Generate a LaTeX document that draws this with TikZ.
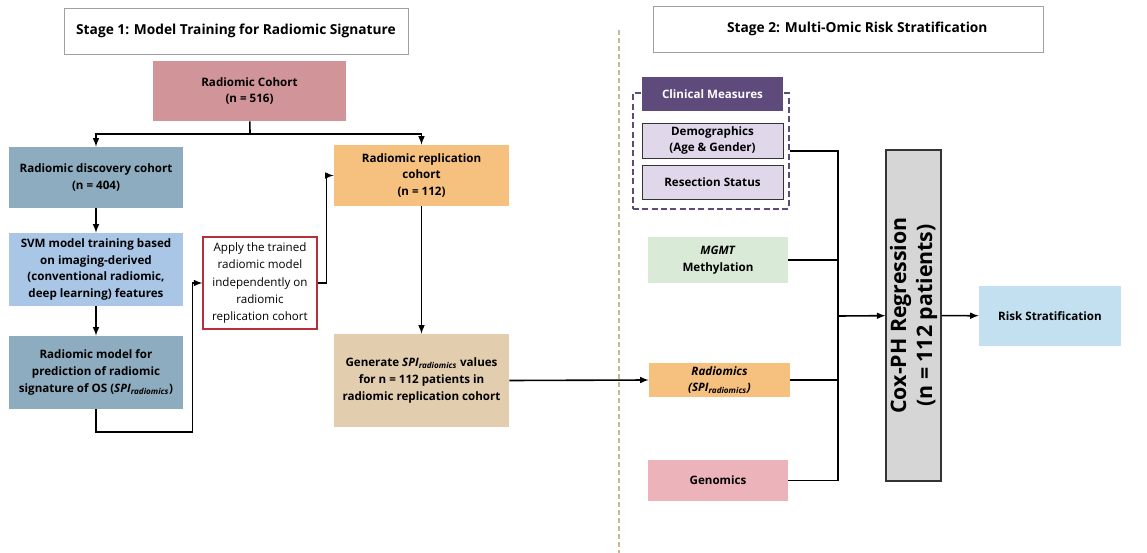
\documentclass[tikz,border=0pt]{standalone}
\usepackage{fontspec}
\setmainfont{Open Sans}
\usetikzlibrary{calc}

\begin{document}
\begin{tikzpicture}[x=0.75pt,y=-0.75pt,
  font=\bfseries\fontsize{8.7}{12.5}\selectfont,
  box/.style={inner sep=0pt,align=center},
  arr/.style={-latex,line width=1.2pt},
  link/.style={line width=1.2pt}]

\newcommand{\cell}[7][] % [style][x0][y0][x1][y1][name]{text}
{
 \node[box,#1,minimum width={(#4-#2)*0.75pt},minimum height={(#5-#3)*0.75pt}]
   (#6) at ({(#2+#4)/2},{(#3+#5)/2}) {#7};
}
\newcommand{\spi}{\textit{SPI}\textsubscript{\itshape radiomics}}

\definecolor{edge}{HTML}{A0A0A0}
\definecolor{cohort}{HTML}{D09499}
\definecolor{steel}{HTML}{8EACBF}
\definecolor{sky}{HTML}{A9C6E6}
\definecolor{peach}{HTML}{F6C07F}
\definecolor{sand}{HTML}{E2CDAF}
\definecolor{wine}{HTML}{B5303A}
\definecolor{tan}{HTML}{C6B99C}
\definecolor{plum}{HTML}{5E4A7B}
\definecolor{lilac}{HTML}{E0D8EA}
\definecolor{mint}{HTML}{D9EAD6}
\definecolor{rose}{HTML}{ECB3BA}
\definecolor{ice}{HTML}{C3E0F0}
\definecolor{cox}{HTML}{D6D6D6}

\useasboundingbox (0,0) rectangle (1147,553);

% stage 1
\cell[draw=edge,font=\bfseries\fontsize{10.3}{12}\selectfont]{64}{8}{408}{54}{stage1}
 {Stage 1: Model Training for Radiomic Signature}
\cell[fill=cohort]{153}{61}{346}{121}{cohort}{Radiomic Cohort\\(n = 516)}
\cell[fill=steel]{9}{147}{183}{208}{disc}{Radiomic discovery cohort\\(n = 404)}
\cell[fill=sky]{9}{233}{183}{306}{svm}
 {SVM model training based\\on imaging-derived\\(conventional radiomic,\\deep learning) features}
\cell[fill=steel]{9}{336}{183}{409}{model}
 {Radiomic model for\\prediction of radiomic\\signature of OS (\spi)}
\cell[draw=wine,line width=1pt,fill=white,font=\mdseries\fontsize{8.7}{13}\selectfont]{203}{237}{317}{329}{apply}
 {Apply the trained\\radiomic model\\independently on\\radiomic\\replication cohort}
\cell[fill=peach]{334}{145}{509}{206}{repl}{Radiomic replication\\cohort\\(n = 112)}
\cell[fill=sand]{334}{334}{509}{427}{gen}
 {Generate \spi{} values\\for n = 112 patients in\\radiomic replication cohort}

\coordinate (split) at (250,134);
\draw[link] (cohort) -- (split);
\draw[arr] (split) -| (disc);
\draw[arr] (split) -| (repl);
\draw[arr] (disc) -- (svm);
\draw[arr] (svm) -- (model);
\draw[arr] (model.south) -- ++(0,23) -| ([xshift=-7.5pt]apply.west) -- (apply.west);
\draw[arr] (apply.east) -- ++(9,0) |- (repl.west);
\draw[arr] (repl) -- (gen);

% divider
\draw[tan,line width=1.5pt,dash pattern=on 4pt off 2pt] (619,30) -- (619,553);

% stage 2
\cell[draw=edge,font=\bfseries\fontsize{10.3}{12}\selectfont]{653}{6}{1043}{52}{stage2}
 {\hspace*{14pt}Stage 2: Multi-Omic Risk Stratification}
\cell[draw=plum,line width=1.3pt,dash pattern=on 4.5pt off 2.5pt]{633}{93}{789}{209}{clinical}{}
\cell[fill=plum,text=white]{642}{77}{783}{111}{clinhead}{Clinical Measures}
\cell[fill=lilac,draw=black!80,line width=0.7pt]{642}{123}{783}{158}{demo}{Demographics\\(Age \& Gender)}
\cell[fill=lilac,draw=black!80,line width=0.7pt]{642}{165}{783}{199}{resect}{Resection Status}
\cell[fill=mint]{648}{237}{788}{283}{mgmt}{\textit{MGMT}\\Methylation}
\cell[fill=peach]{649}{363}{790}{397}{radiomics}
 {\itshape Radiomics\\\itshape (SPI\textsubscript{radiomics})}
\cell[fill=rose]{648}{460}{788}{501}{genomics}{Genomics}
\node[box,rotate=90,fill=cox,draw=black!80,line width=0.8pt,
  minimum width={331*0.75pt},minimum height={55*0.75pt},
  font=\bfseries\fontsize{16}{19.5}\selectfont] (coxph) at (913.5,315.5)
 {Cox-PH Regression\\(n = 112 patients)};
\cell[fill=ice]{979}{286}{1121}{346}{risk}{Risk Stratification}

\draw[arr] (gen.east) -- (radiomics.west);
\coordinate (bus) at (838,316);
\draw[link] (clinical.east) -| (bus);
\draw[link] (mgmt.east) -| (bus);
\draw[link] (radiomics.east) -| (bus);
\draw[link] (genomics.east) -| (bus);
\draw[arr] (bus) -- (coxph);
\draw[arr] (coxph) -- (risk);

\end{tikzpicture}
\end{document}
